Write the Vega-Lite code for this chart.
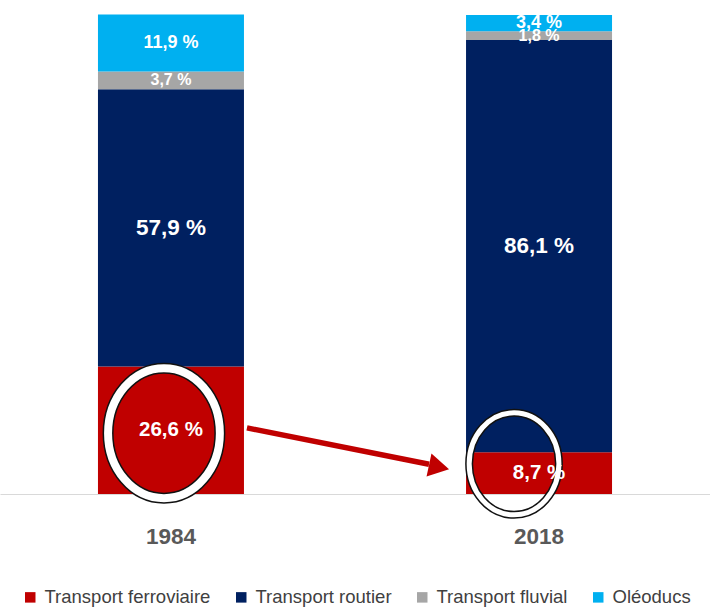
{
  "$schema": "https://vega.github.io/schema/vega-lite/v6.json",
  "width": 710,
  "height": 479,
  "autosize": "none",
  "padding": {"top": 15, "left": 0, "right": 0, "bottom": 114},
  "background": "white",
  "config": {"view": {"stroke": null}},
  "datasets": {
    "parts": [
      {"year": "1984", "mode": "Transport ferroviaire", "k": 1, "value": 26.6, "label": "26,6 %"},
      {"year": "1984", "mode": "Transport routier", "k": 2, "value": 57.9, "label": "57,9 %"},
      {"year": "1984", "mode": "Transport fluvial", "k": 3, "value": 3.7, "label": "3,7 %"},
      {"year": "1984", "mode": "Oléoducs", "k": 4, "value": 11.9, "label": "11,9 %"},
      {"year": "2018", "mode": "Transport ferroviaire", "k": 1, "value": 8.7, "label": "8,7 %"},
      {"year": "2018", "mode": "Transport routier", "k": 2, "value": 86.1, "label": "86,1 %"},
      {"year": "2018", "mode": "Transport fluvial", "k": 3, "value": 1.8, "label": "1,8 %"},
      {"year": "2018", "mode": "Oléoducs", "k": 4, "value": 3.4, "label": "3,4 %"}
    ],
    "ring1984": [{"year": "1984", "v": 12.7}],
    "ring2018": [{"year": "2018", "v": 6.3}],
    "arrow": [{"from": "1984", "to": "2018", "a": 13.8, "b": 6.2}],
    "head": [{"year": "2018", "v": 5.6}]
  },
  "layer": [
    {
      "data": {"name": "parts"},
      "mark": {"type": "bar", "width": 146},
      "encoding": {
        "x": {
          "field": "year", "type": "nominal", "title": null,
          "scale": {"type": "band", "paddingInner": 0.603, "paddingOuter": 0.266},
          "axis": {
            "labelAngle": 0, "ticks": false, "tickSize": 0, "labelPadding": 31,
            "labelFont": "Liberation Sans, Arial, sans-serif",
            "labelFontSize": 22.5, "labelFontWeight": "bold", "labelColor": "#595959",
            "domainColor": "#D9D9D9", "domainWidth": 1.2
          }
        },
        "y": {
          "field": "value", "type": "quantitative", "stack": "zero",
          "scale": {"domain": [0, 100], "nice": false}, "axis": null
        },
        "order": {"field": "k", "type": "quantitative"},
        "color": {
          "field": "mode", "type": "nominal",
          "scale": {
            "domain": ["Transport ferroviaire", "Transport routier", "Transport fluvial", "Oléoducs"],
            "range": ["#C00000", "#002060", "#A6A6A6", "#00B0F0"]
          },
          "legend": {
            "title": null, "orient": "none", "legendX": 21, "legendY": 573,
            "direction": "horizontal", "symbolType": "square", "symbolSize": 110,
            "symbolStrokeWidth": 0, "symbolOpacity": 1, "columnPadding": 21, "labelOffset": 5,
            "labelFont": "Liberation Sans, Arial, sans-serif",
            "labelFontSize": 18.5, "labelColor": "#404040", "labelLimit": 400
          }
        }
      }
    },
    {
      "data": {"name": "ring1984"},
      "mark": {"type": "point", "shape": "M -0.86 0 A 0.86 1 0 1 0 0.86 0 A 0.86 1 0 1 0 -0.86 0 Z", "size": 16900, "filled": false, "stroke": "#111111", "strokeWidth": 11, "opacity": 1, "xOffset": -7},
      "encoding": {
        "x": {"field": "year", "type": "nominal"},
        "y": {"field": "v", "type": "quantitative"}
      }
    },
    {
      "data": {"name": "ring1984"},
      "mark": {"type": "point", "shape": "M -0.86 0 A 0.86 1 0 1 0 0.86 0 A 0.86 1 0 1 0 -0.86 0 Z", "size": 16900, "filled": false, "stroke": "#FFFFFF", "strokeWidth": 8, "opacity": 1, "xOffset": -7},
      "encoding": {
        "x": {"field": "year", "type": "nominal"},
        "y": {"field": "v", "type": "quantitative"}
      }
    },
    {
      "data": {"name": "ring2018"},
      "mark": {"type": "point", "shape": "M -0.88 0 A 0.88 1 0 1 0 0.88 0 A 0.88 1 0 1 0 -0.88 0 Z", "size": 10404, "filled": false, "stroke": "#111111", "strokeWidth": 8, "opacity": 1, "xOffset": -25},
      "encoding": {
        "x": {"field": "year", "type": "nominal"},
        "y": {"field": "v", "type": "quantitative"}
      }
    },
    {
      "data": {"name": "ring2018"},
      "mark": {"type": "point", "shape": "M -0.88 0 A 0.88 1 0 1 0 0.88 0 A 0.88 1 0 1 0 -0.88 0 Z", "size": 10404, "filled": false, "stroke": "#FFFFFF", "strokeWidth": 5, "opacity": 1, "xOffset": -25},
      "encoding": {
        "x": {"field": "year", "type": "nominal"},
        "y": {"field": "v", "type": "quantitative"}
      }
    },
    {
      "data": {"name": "parts"},
      "mark": {"type": "text", "font": "Liberation Sans, Arial, sans-serif", "fontWeight": "bold", "color": "#FFFFFF", "baseline": "middle", "align": "center"},
      "encoding": {
        "x": {"field": "year", "type": "nominal"},
        "y": {"field": "value", "type": "quantitative", "stack": "zero", "bandPosition": 0.5},
        "order": {"field": "k", "type": "quantitative"},
        "text": {"field": "label"},
        "size": {
          "condition": [
            {"test": "datum.k === 1", "value": 20.5},
            {"test": "datum.k === 2", "value": 22.5},
            {"test": "datum.k === 3", "value": 16}
          ],
          "value": 18
        }
      }
    },
    {
      "data": {"name": "arrow"},
      "mark": {"type": "rule", "color": "#C00000", "strokeWidth": 5.5, "xOffset": 76, "x2Offset": -110},
      "encoding": {
        "x": {"field": "from", "type": "nominal"},
        "x2": {"field": "to"},
        "y": {"field": "a", "type": "quantitative"},
        "y2": {"field": "b"}
      }
    },
    {
      "data": {"name": "head"},
      "mark": {"type": "point", "shape": "triangle-right", "size": 560, "filled": true, "color": "#C00000", "opacity": 1, "angle": 12, "xOffset": -100},
      "encoding": {
        "x": {"field": "year", "type": "nominal"},
        "y": {"field": "v", "type": "quantitative"}
      }
    }
  ]
}
